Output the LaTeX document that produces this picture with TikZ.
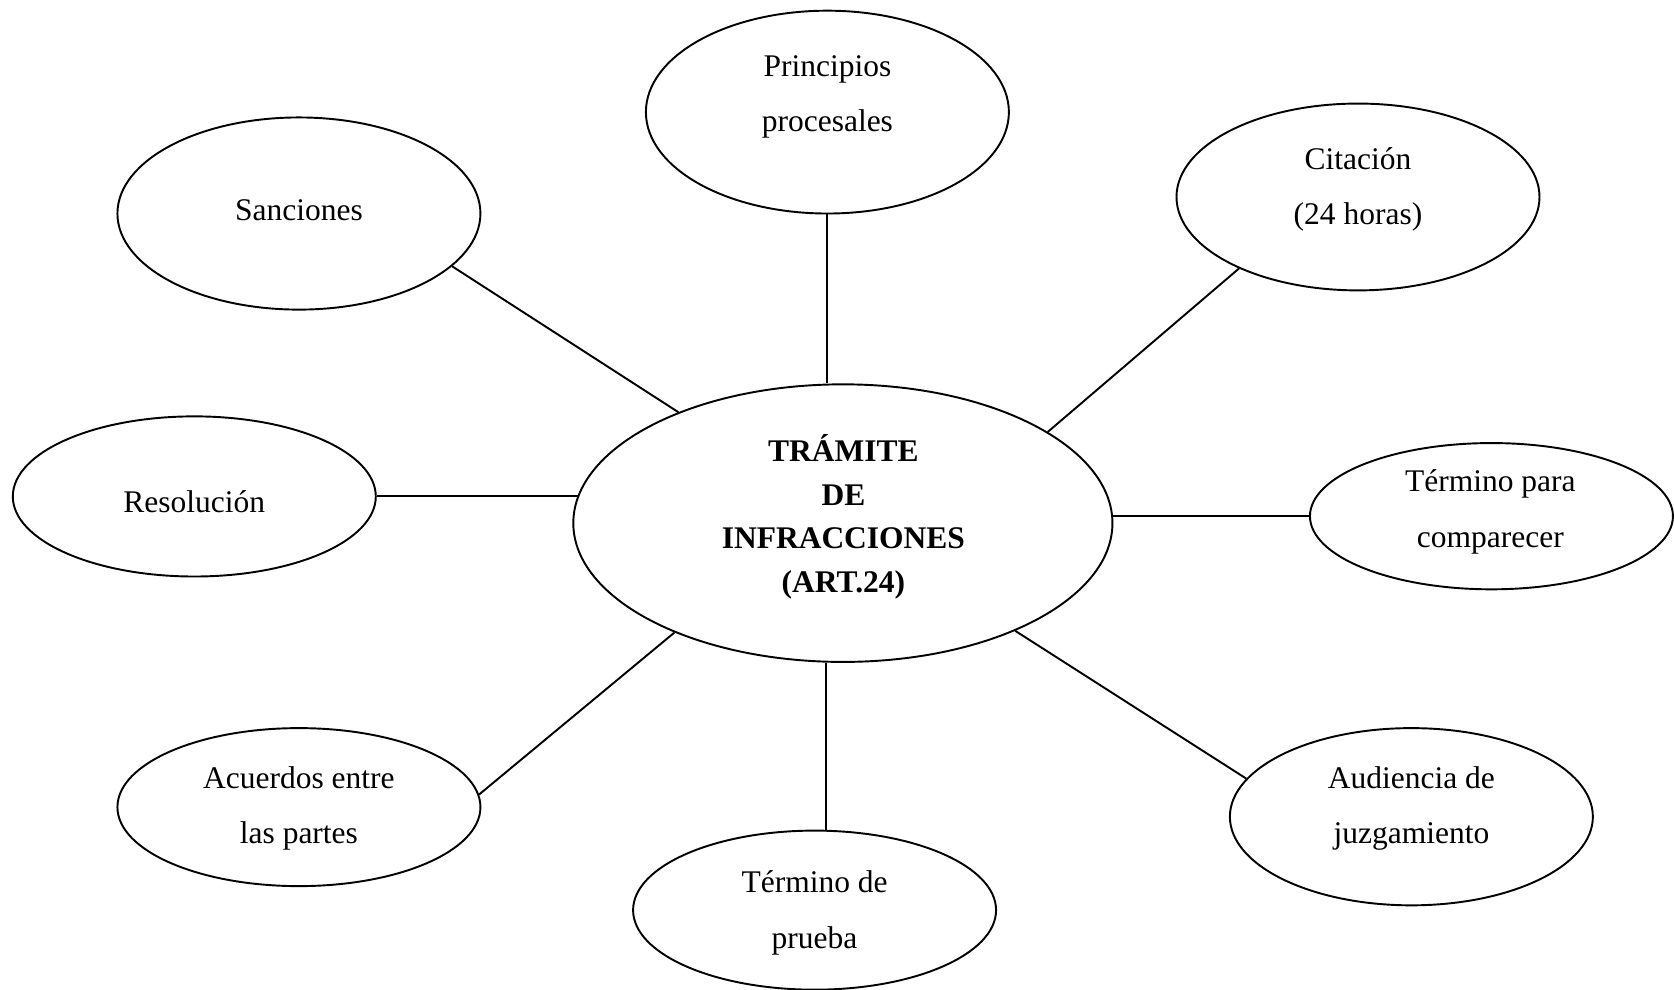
\documentclass[tikz,border=0pt]{standalone}
\usepackage{fontspec}
\setmainfont{Liberation Serif}
\usetikzlibrary{shapes.geometric}
\begin{document}
\begin{tikzpicture}[x=0.5pt,y=-0.5pt,line width=0.9pt,
  bubble/.style={ellipse,draw,inner sep=0pt,minimum width=170pt},
  lbl/.style={align=center,inner sep=0pt,font=\fontsize{14.75pt}{26pt}\selectfont},
  mainlbl/.style={align=center,inner sep=0pt,font=\fontsize{14.75pt}{20.5pt}\selectfont\bfseries},
  link/.style={draw}]
\useasboundingbox (0,0) rectangle (1568,927);
% ellipses
\node[bubble,minimum width=252.5pt,minimum height=130pt] (main) at (789.5,490) {};
\node[bubble,minimum height=95pt]   (prin) at (775,105) {};
\node[bubble,minimum height=90pt]   (sanc) at (280,200) {};
\node[bubble,minimum height=87.5pt] (cit)  at (1272,184.5) {};
\node[bubble,minimum height=75pt]   (res)  at (182,465) {};
\node[bubble,minimum height=68.5pt] (com)  at (1397,483.5) {};
\node[bubble,minimum height=74pt]   (acu)  at (280,756) {};
\node[bubble,minimum height=74.5pt] (pru)  at (763,852.5) {};
\node[bubble,minimum height=83pt]   (aud)  at (1322,765) {};
% labels
\node[mainlbl] (main-t) at (790,485.5) {\strut TRÁMITE\\\strut DE\\\strut INFRACCIONES\\\strut (ART.24)};
\node[lbl] (prin-t) at (775,87) {\strut Principios\\\strut procesales};
\node[lbl] (sanc-t) at (280,196) {\strut Sanciones};
\node[lbl] (cit-t)  at (1272,174) {\strut Citación\\\strut (24 horas)};
\node[lbl] (res-t)  at (182,470) {\strut Resolución};
\node[lbl] (com-t)  at (1396,476) {\strut Término para\\\strut comparecer};
\node[lbl] (acu-t)  at (280,754) {\strut Acuerdos entre\\\strut las partes};
\node[lbl] (pru-t)  at (763,852) {\strut Término de\\\strut prueba};
\node[lbl] (aud-t)  at (1322,754) {\strut Audiencia de\\\strut juzgamiento};
% connectors
\draw[link] (sanc.-19.65) -- (main.146.57);
\draw[link] (prin.south) -- (prin.south |- main.north);
\draw[link] (cit.211.47) -- (main.24.55);
\draw[link] (res.east) -- (res.east -| main.174.24);
\draw[link] (main.east |- com.west) -- (com.west);
\draw[link] (aud.167.43) -- (main.-32.25);
\draw[link] (acu.4.37) -- (main.213.43);
\draw[link] (main.263.63) -- (main.263.63 |- pru.north);
\end{tikzpicture}
\end{document}
